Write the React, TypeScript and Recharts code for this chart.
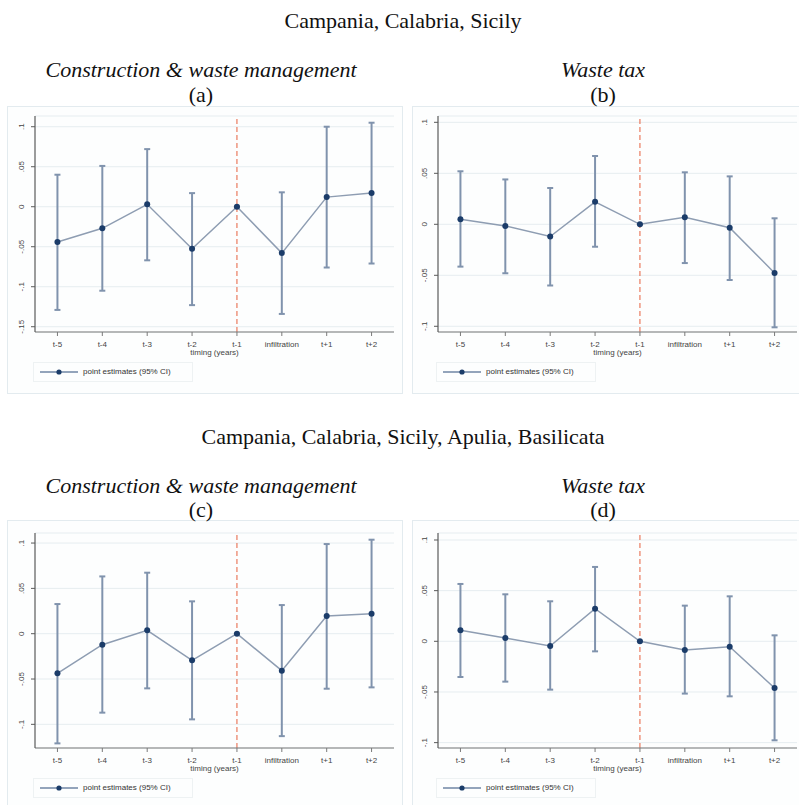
import React from 'react';
import {
  ComposedChart,
  Line,
  ErrorBar,
  XAxis,
  YAxis,
  CartesianGrid,
  ReferenceLine,
} from 'recharts';

// event-time categories on the x axis
const periods = ['t-5', 't-4', 't-3', 't-2', 't-1', 'infiltration', 't+1', 't+2'];

const yTicksWide = [-0.15, -0.1, -0.05, 0, 0.05, 0.1];
const yTicksNarrow = [-0.1, -0.05, 0, 0.05, 0.1];

// (a) Campania, Calabria, Sicily - construction & waste management
const estA = [-0.044, -0.027, 0.003, -0.0525, 0, -0.058, 0.012, 0.017];
const loA = [-0.129, -0.105, -0.067, -0.123, 0, -0.134, -0.076, -0.071];
const hiA = [0.04, 0.051, 0.072, 0.017, 0, 0.018, 0.1, 0.105];

// (b) Campania, Calabria, Sicily - waste tax
const estB = [0.005, -0.0016, -0.012, 0.022, 0, 0.007, -0.0033, -0.0477];
const loB = [-0.0415, -0.048, -0.06, -0.022, 0, -0.038, -0.0546, -0.101];
const hiB = [0.052, 0.044, 0.0356, 0.067, 0, 0.051, 0.047, 0.0059];

// (c) + Apulia, Basilicata - construction & waste management
const estC = [-0.0437, -0.0121, 0.0037, -0.0294, 0, -0.0408, 0.0195, 0.0221];
const loC = [-0.121, -0.0871, -0.0603, -0.0945, 0, -0.113, -0.0607, -0.0592];
const hiC = [0.0327, 0.0632, 0.0673, 0.0357, 0, 0.0316, 0.0989, 0.1037];

// (d) + Apulia, Basilicata - waste tax
const estD = [0.0109, 0.0033, -0.0046, 0.0322, 0, -0.0086, -0.0053, -0.0461];
const loD = [-0.0352, -0.0398, -0.0477, -0.0099, 0, -0.0516, -0.0543, -0.0977];
const hiD = [0.0566, 0.0464, 0.0395, 0.0734, 0, 0.0352, 0.0444, 0.0059];

const SANS = '"Liberation Sans", Arial, sans-serif';
const SERIF = '"Liberation Serif", "Times New Roman", serif';

const buildRows = (est: number[], lo: number[], hi: number[]) =>
  periods.map((p, i) => ({
    idx: i,
    period: p,
    est: est[i],
    ci: [est[i] - lo[i], hi[i] - est[i]],
  }));

const fmtTick = (v: number) =>
  v === 0 ? '0' : (v < 0 ? '-' : '') + String(Math.abs(v)).replace(/^0/, '');

const YTick = (props: any) => {
  const { x, y, payload } = props;
  return (
    <text
      x={x}
      y={y}
      transform={`rotate(-90 ${x} ${y})`}
      textAnchor="middle"
      dominantBaseline="central"
      fontSize={8}
      fill="#444"
      fontFamily={SANS}
    >
      {fmtTick(payload.value)}
    </text>
  );
};

function Panel({
  rows,
  domain,
  yTicks,
  left,
  top,
  width,
  height,
  yAxisWidth,
  margin,
}: {
  rows: any[];
  domain: [number, number];
  yTicks: number[];
  left: number;
  top: number;
  width: number;
  height: number;
  yAxisWidth: number;
  margin: { top: number; right: number; bottom: number; left: number };
}) {
  const axisY = height - margin.bottom - 26;
  return (
    <div style={{ position: 'absolute', left, top, width, height }}>
      <ComposedChart width={width} height={height} data={rows} margin={margin}>
        <CartesianGrid vertical={false} stroke="#e6edf0" strokeWidth={1} />
        <XAxis
          type="number"
          dataKey="idx"
          domain={[-0.5, 7.5]}
          ticks={[0, 1, 2, 3, 4, 5, 6, 7]}
          allowDataOverflow
          tickFormatter={(i: number) => periods[i]}
          tick={{ fontSize: 8, fill: '#444', fontFamily: SANS }}
          tickSize={4}
          tickMargin={5}
          height={26}
          axisLine={{ stroke: '#7a7a7a', strokeWidth: 1.2 }}
          tickLine={{ stroke: '#7a7a7a' }}
          label={{
            value: 'timing (years)',
            position: 'insideBottom',
            offset: 3,
            fontSize: 8,
            fill: '#444',
            fontFamily: SANS,
          }}
        />
        <YAxis
          type="number"
          domain={domain}
          ticks={yTicks}
          allowDataOverflow
          width={yAxisWidth}
          tick={<YTick />}
          tickSize={4}
          tickMargin={9}
          axisLine={{ stroke: '#5a5a5a', strokeWidth: 1.2 }}
          tickLine={{ stroke: '#5a5a5a' }}
        />
        <ReferenceLine x={4} stroke="#e6603f" strokeDasharray="5 3" strokeWidth={1} />
        <Line
          dataKey="est"
          stroke="none"
          dot={false}
          activeDot={false}
          isAnimationActive={false}
          legendType="none"
        >
          <ErrorBar dataKey="ci" direction="y" width={3} stroke="#8093ad" strokeWidth={2} />
        </Line>
        <Line
          type="linear"
          dataKey="est"
          stroke="#8e9db2"
          strokeWidth={1.5}
          dot={{ r: 3, fill: '#1b3c69', stroke: '#1b3c69', strokeWidth: 0 }}
          activeDot={false}
          isAnimationActive={false}
          name="point estimates (95% CI)"
        />
      </ComposedChart>
      <div
        style={{
          position: 'absolute',
          left: yAxisWidth + margin.left - 2,
          top: axisY + 30,
          width: 160,
          height: 20,
          border: '1px solid #eef2f3',
          boxSizing: 'border-box',
        }}
      >
        <svg width={50} height={18} style={{ position: 'absolute', left: 0, top: 0 }}>
          <line x1={6} y1={9} x2={44} y2={9} stroke="#2a4b78" strokeWidth={1.2} />
          <circle cx={25} cy={9} r={2.6} fill="#1b3c69" />
        </svg>
        <span
          style={{
            position: 'absolute',
            left: 49,
            top: 3,
            fontSize: 8,
            lineHeight: '12px',
            fontFamily: SANS,
            color: '#333',
            whiteSpace: 'nowrap',
          }}
        >
          point estimates (95% CI)
        </span>
      </div>
    </div>
  );
}

const Title = ({ text, cx, cy, italic }: { text: string; cx: number; cy: number; italic?: boolean }) => (
  <div
    style={{
      position: 'absolute',
      left: cx - 250,
      top: cy - 12,
      width: 500,
      textAlign: 'center',
      fontFamily: SERIF,
      fontSize: 22,
      lineHeight: '24px',
      fontStyle: italic ? 'italic' : 'normal',
      color: '#111',
      whiteSpace: 'nowrap',
    }}
  >
    {text}
  </div>
);

const Frame = ({ left, top, width, height }: { left: number; top: number; width: number; height: number }) => (
  <div
    style={{
      position: 'absolute',
      left,
      top,
      width,
      height,
      border: '1.5px solid #e3ebef',
      background: '#fdfefe',
      boxSizing: 'border-box',
    }}
  />
);

export default function App() {
  return (
    <div
      style={{
        position: 'absolute',
        left: 0,
        top: 0,
        width: 799,
        height: 805,
        overflow: 'hidden',
        background: '#fff',
      }}
    >
      <Frame left={7} top={106} width={396} height={288} />
      <Frame left={412} top={106} width={400} height={288} />
      <Frame left={7} top={520} width={396} height={286} />
      <Frame left={412} top={520} width={400} height={286} />

      <Title text="Campania, Calabria, Sicily" cx={403} cy={21} />
      <Title text="Construction & waste management" cx={201} cy={70} italic />
      <Title text="(a)" cx={201} cy={95} />
      <Title text="Waste tax" cx={603} cy={70} italic />
      <Title text="(b)" cx={603} cy={95} />

      <Title text="Campania, Calabria, Sicily, Apulia, Basilicata" cx={403} cy={437} />
      <Title text="Construction & waste management" cx={201} cy={486} italic />
      <Title text="(c)" cx={201} cy={510} />
      <Title text="Waste tax" cx={603} cy={486} italic />
      <Title text="(d)" cx={603} cy={510} />

      <Panel
        rows={buildRows(estA, loA, hiA)}
        domain={[-0.1566, 0.1134]}
        yTicks={yTicksWide}
        left={7}
        top={106}
        width={396}
        height={288}
        yAxisWidth={28}
        margin={{ top: 10, right: 9, bottom: 36, left: 0 }}
      />
      <Panel
        rows={buildRows(estB, loB, hiB)}
        domain={[-0.1056, 0.1062]}
        yTicks={yTicksNarrow}
        left={412}
        top={106}
        width={387}
        height={288}
        yAxisWidth={26}
        margin={{ top: 10, right: 2, bottom: 36, left: 0 }}
      />
      <Panel
        rows={buildRows(estC, loC, hiC)}
        domain={[-0.1261, 0.1111]}
        yTicks={yTicksNarrow}
        left={7}
        top={520}
        width={396}
        height={284}
        yAxisWidth={28}
        margin={{ top: 13, right: 9, bottom: 30, left: 0 }}
      />
      <Panel
        rows={buildRows(estD, loD, hiD)}
        domain={[-0.1053, 0.1069]}
        yTicks={yTicksNarrow}
        left={412}
        top={520}
        width={387}
        height={284}
        yAxisWidth={26}
        margin={{ top: 13, right: 2, bottom: 30, left: 0 }}
      />
    </div>
  );
}
